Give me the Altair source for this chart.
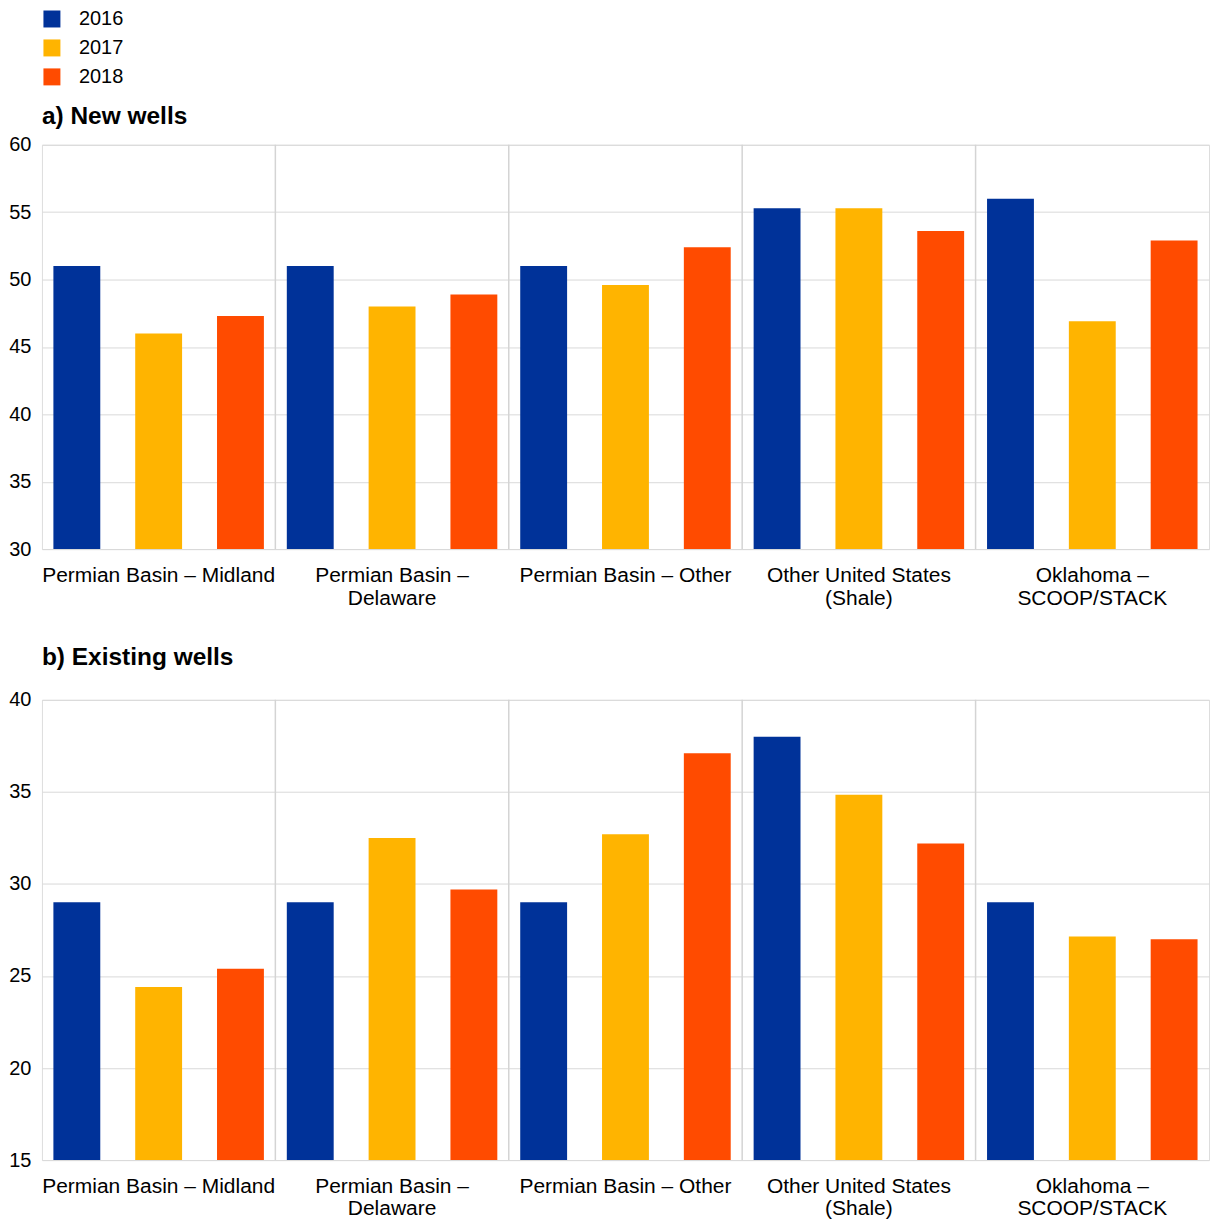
import altair as alt
import pandas as pd

categories = ["Permian Basin – Midland", "Permian Basin –|Delaware", "Permian Basin – Other",
              "Other United States|(Shale)", "Oklahoma –|SCOOP/STACK"]
years = ["2016", "2017", "2018"]
colors = ["#003299", "#FFB400", "#FF4B00"]

new_2016 = [51.0, 51.0, 51.0, 55.3, 56.0]
new_2017 = [46.0, 48.0, 49.6, 55.3, 46.9]
new_2018 = [47.3, 48.9, 52.4, 53.6, 52.9]

ex_2016 = [29.0, 29.0, 29.0, 38.0, 29.0]
ex_2017 = [24.4, 32.5, 32.7, 34.85, 27.15]
ex_2018 = [25.4, 29.7, 37.1, 32.2, 27.0]

FONT = "Liberation Sans"


def long_df(s16, s17, s18):
    rows = []
    for yr, ser in zip(years, [s16, s17, s18]):
        for c, v in zip(categories, ser):
            rows.append({"cat": c, "year": yr, "value": v})
    return pd.DataFrame(rows)


sep_df = pd.DataFrame({"cat": categories[1:]})


def panel(df, title, lo, hi, height, show_legend, title_offset):
    xenc = alt.X("cat:N", sort=categories, title=None,
                 scale=alt.Scale(paddingInner=0, paddingOuter=0),
                 axis=alt.Axis(labelExpr="split(datum.label, '|')", labelAngle=0,
                               labelAlign="center", labelLimit=400,
                               domain=False, ticks=False, tickSize=0, grid=False,
                               labelFontSize=21, labelPadding=15, labelLineHeight=23,
                               labelColor="#000000", labelFont=FONT, labelBaseline="top"))
    legend = alt.Legend(orient="none", legendX=0, legendY=-136, direction="vertical",
                        title=None, symbolType="square", symbolSize=289, padding=0,
                        symbolStrokeWidth=0, labelFontSize=20, labelFont=FONT,
                        labelColor="#000000", rowPadding=9, labelOffset=17) if show_legend else None
    bars = alt.Chart(df).mark_bar(clip=True).encode(
        x=xenc,
        xOffset=alt.XOffset("year:N", sort=years,
                            scale=alt.Scale(paddingInner=0.427, paddingOuter=0.14)),
        y=alt.Y("value:Q", title=None,
                scale=alt.Scale(domain=[lo, hi], zero=False, nice=False),
                axis=alt.Axis(values=list(range(lo, hi + 1, 5)), domain=False, ticks=False,
                              labelFontSize=20, labelFont=FONT, labelColor="#000000",
                              labelPadding=11, gridColor="#d9d9d9", gridWidth=1)),
        color=alt.Color("year:N", sort=years,
                        scale=alt.Scale(domain=years, range=colors),
                        legend=legend),
    )
    seps = alt.Chart(sep_df).mark_rule(color="#d4d4d4", strokeWidth=1.5).encode(
        x=alt.X("cat:N", sort=categories, bandPosition=0),
    )
    return alt.layer(seps, bars).properties(
        width=1169, height=height,
        title=alt.TitleParams(title, anchor="start", frame="group", fontSize=24.5,
                              fontWeight="bold", font=FONT, color="#000000",
                              offset=title_offset),
    )


pa = panel(long_df(new_2016, new_2017, new_2018), "a) New wells", 30, 60, 405, True, 5)
pb = panel(long_df(ex_2016, ex_2017, ex_2018), "b) Existing wells", 15, 40, 461, False, 19)

chart = alt.vconcat(pa, pb, spacing=36).properties(padding=0).configure_view(
    stroke="#d4d4d4", strokeWidth=2
).configure(font=FONT)

chart.save("out.html", embed_options={"renderer": "svg", "actions": False})
